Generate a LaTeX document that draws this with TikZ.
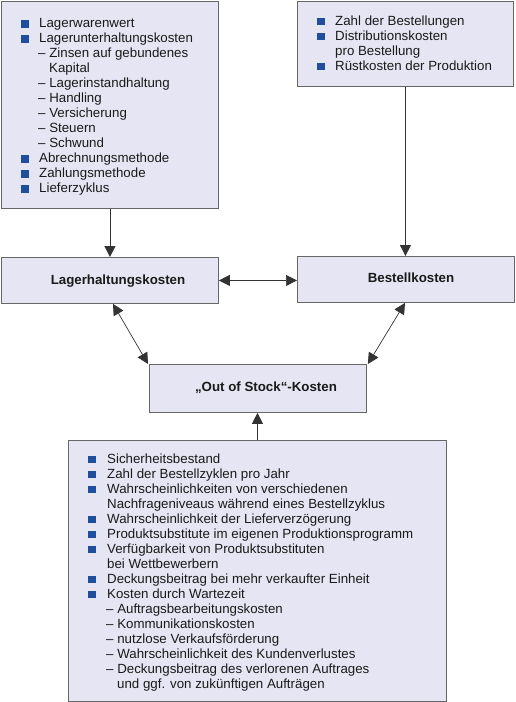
\documentclass[tikz,border=0pt]{standalone}
\usepackage{fontspec}
\setmainfont{Liberation Sans}
\usetikzlibrary{arrows.meta,calc}
\definecolor{boxfill}{HTML}{E5E5F4}
\definecolor{boxline}{HTML}{666666}
\definecolor{bulblue}{HTML}{1F4E9C}
\definecolor{txt}{HTML}{1A1A1A}
\definecolor{conn}{HTML}{333333}
\newlength\toff
\newcommand\bl[1]{\hbox{\makebox[\toff][l]{\textcolor{bulblue}{\rule[0pt]{7.5pt}{7.5pt}}}#1}}
\newcommand\dl[1]{\hbox{\hspace*{\dimexpr\toff-1pt\relax}– #1}}
\newcommand\cl[1]{\hbox{\hspace*{\toff}#1}}
\newcommand\dcl[1]{\hbox{\hspace*{\dimexpr\toff+10pt\relax}#1}}
\newcommand\lst[1]{\vtop{\baselineskip=15pt\lineskip=0pt\lineskiplimit=-20pt #1}}
\begin{document}
\begin{tikzpicture}[x=1pt,y=-1pt,
  box/.style={draw=boxline,fill=boxfill,line width=0.9pt,inner sep=0,anchor=north west},
  lst/.style={inner sep=0,anchor=base west,text=txt,font=\fontsize{13.3}{15}\selectfont},
  lbl/.style={inner sep=0,anchor=base,text=txt,font=\fontsize{13.3}{15}\selectfont\bfseries},
  arr/.style={draw=conn,line width=0.9pt,-{Triangle[length=11pt,width=11pt]}},
  darr/.style={draw=conn,line width=0.7pt,{Triangle[length=11pt,width=11pt]}-{Triangle[length=11pt,width=11pt]}}]
\useasboundingbox (0,0) rectangle (515,702);
% boxes
\node[box,minimum width=217pt,minimum height=207pt] (b1) at (1,1) {};
\node[box,minimum width=216pt,minimum height=85pt] (b2) at (297,1) {};
\node[box,minimum width=217pt,minimum height=46pt] (lager) at (1,257) {};
\node[box,minimum width=217pt,minimum height=46pt] (bestell) at (297,256) {};
\node[box,minimum width=217pt,minimum height=48pt] (oos) at (149,364) {};
\node[box,minimum width=378pt,minimum height=261pt] (b4) at (68,440) {};
% texts
\node[lst] (t1) at (21,27.5) {\setlength\toff{18pt}\lst{%
  \bl{Lagerwarenwert}
  \bl{Lagerunterhaltungskosten}
  \dl{Zinsen auf gebundenes}
  \dcl{Kapital}
  \dl{Lagerinstandhaltung}
  \dl{Handling}
  \dl{Versicherung}
  \dl{Steuern}
  \dl{Schwund}
  \bl{Abrechnungsmethode}
  \bl{Zahlungsmethode}
  \bl{Lieferzyklus}}};
\node[lst] (t2) at (317,25) {\setlength\toff{18pt}\lst{%
  \bl{Zahl der Bestellungen}
  \bl{Distributionskosten}
  \cl{pro Bestellung}
  \bl{Rüstkosten der Produktion}}};
\node[lst] (t4) at (88,463) {\setlength\toff{19pt}\lst{%
  \bl{Sicherheitsbestand}
  \bl{Zahl der Bestellzyklen pro Jahr}
  \bl{Wahrscheinlichkeiten von verschiedenen}
  \cl{Nachfrageniveaus während eines Bestellzyklus}
  \bl{Wahrscheinlichkeit der Lieferverzögerung}
  \bl{Produktsubstitute im eigenen Produktionsprogramm}
  \bl{Verfügbarkeit von Produktsubstituten}
  \cl{bei Wettbewerbern}
  \bl{Deckungsbeitrag bei mehr verkaufter Einheit}
  \bl{Kosten durch Wartezeit}
  \dl{Auftragsbearbeitungskosten}
  \dl{Kommunikationskosten}
  \dl{nutzlose Verkaufsförderung}
  \dl{Wahrscheinlichkeit des Kundenverlustes}
  \dl{Deckungsbeitrag des verlorenen Auftrages}
  \dcl{und ggf. von zukünftigen Aufträgen}}};
\node[lbl] (l1) at (118,284.5) {Lagerhaltungskosten};
\node[lbl] (l2) at (411,282.5) {Bestellkosten};
\node[lbl] (l3) at (266,391.5) {„Out of Stock“-Kosten};
% connectors
\draw[arr] (b1.south) -- (lager.north);
\draw[arr] (b2.south) -- (b2.south |- bestell.north);
\draw[darr] (lager.east) -- (lager.east -| bestell.west);
\draw[darr] ($(lager.south west)+(112,0)$) -- ($(oos.north west)+(-1,0)$);
\draw[darr] ($(bestell.south west)+(108,0)$) -- ($(oos.north east)+(1,0)$);
\draw[arr] (b4.north) -- (b4.north |- oos.south);
\end{tikzpicture}
\end{document}
